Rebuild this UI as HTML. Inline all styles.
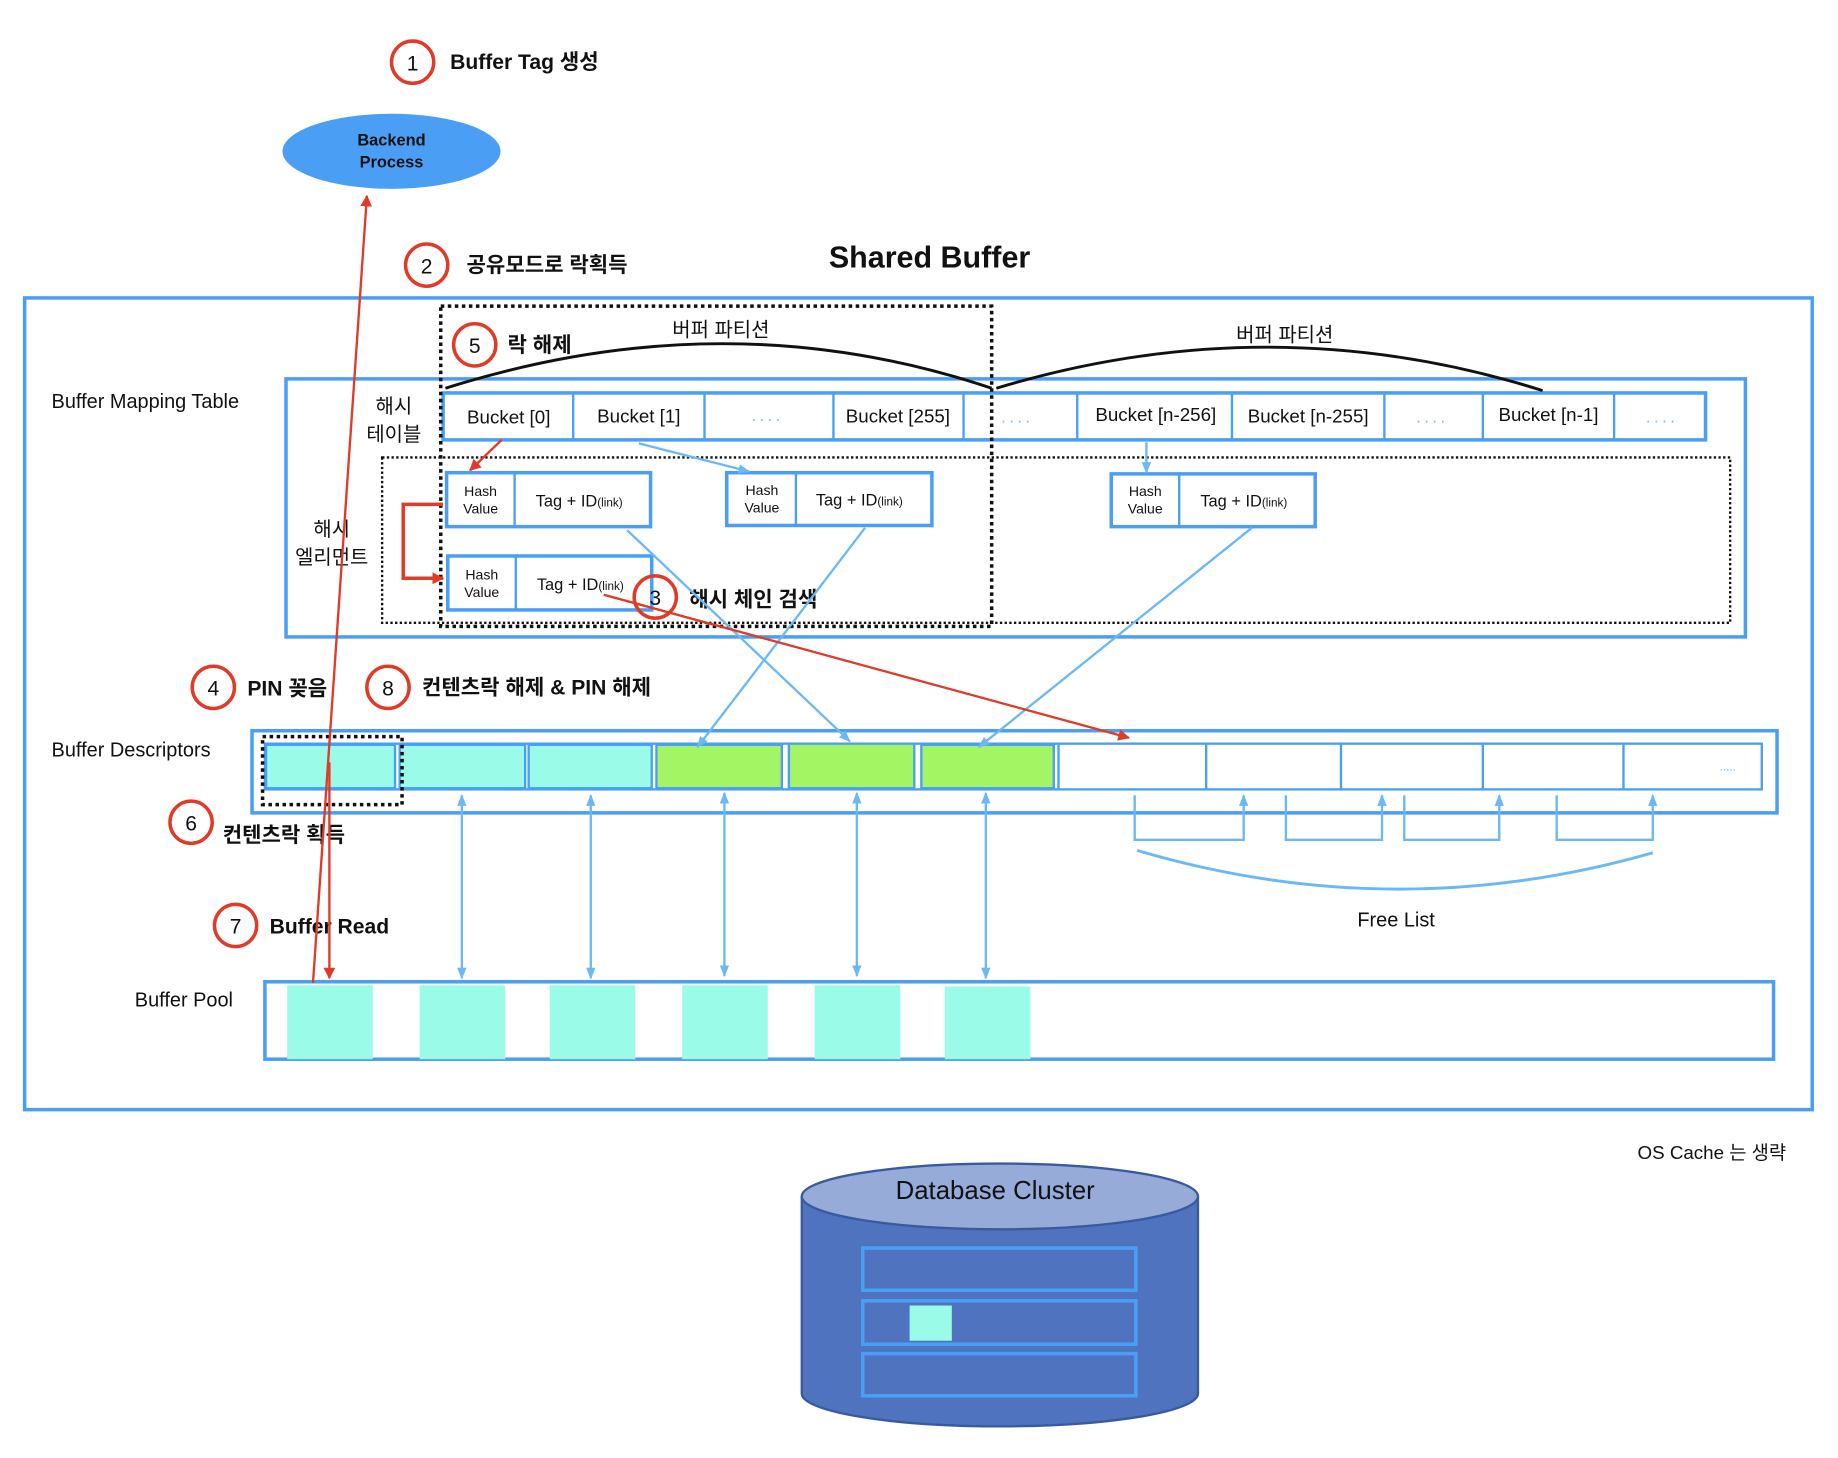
<!DOCTYPE html>
<html><head><meta charset="utf-8">
<style>
html,body{margin:0;padding:0;background:#fff;}
svg{display:block;}
text{font-family:"Liberation Sans","Noto Sans CJK KR",sans-serif;fill:#111;}
.b{font-weight:bold;}
</style></head><body>
<svg width="1838" height="1458" viewBox="0 0 1568 1243" preserveAspectRatio="none" xmlns="http://www.w3.org/2000/svg">
<defs>
<marker id="ar" markerWidth="10" markerHeight="10" refX="9" refY="5" orient="auto" markerUnits="userSpaceOnUse"><path d="M0,0 L10,5 L0,10 z" fill="#e03a28"/></marker>
<marker id="ab" markerWidth="10" markerHeight="10" refX="9" refY="5" orient="auto" markerUnits="userSpaceOnUse"><path d="M0,1 L10,5 L0,9 z" fill="#6cb8f5"/></marker>
<marker id="abs" markerWidth="10" markerHeight="10" refX="1" refY="5" orient="auto" markerUnits="userSpaceOnUse"><path d="M10,1 L0,5 L10,9 z" fill="#6cb8f5"/></marker>
</defs>
<g class="b" font-size="18">
<text class="b" x="384" y="59">Buffer Tag 생성</text>
<text class="b" x="398" y="232">공유모드로 락획득</text>
<text class="b" x="433" y="300">락 해제</text>
<text class="b" x="588" y="517">해시 체인 검색</text>
<text class="b" x="211" y="593">PIN 꽂음</text>
<text class="b" x="360" y="592">컨텐츠락 해제 &amp; PIN 해제</text>
<text class="b" x="190" y="718">컨텐츠락 획득</text>
<text class="b" x="230" y="796">Buffer Read</text>
</g>
<text class="b" x="793" y="228" font-size="26" text-anchor="middle">Shared Buffer</text>
<ellipse cx="334" cy="129" rx="93" ry="32" fill="#4a9ff5"/>
<text class="b" x="334" y="124" font-size="14" text-anchor="middle">Backend</text>
<text class="b" x="334" y="143" font-size="14" text-anchor="middle">Process</text>
<rect x="21" y="254" width="1525" height="692" fill="none" stroke="#4a9ff5" stroke-width="3"/>
<rect x="244" y="323" width="1245" height="220" fill="none" stroke="#4a9ff5" stroke-width="3"/>
<rect x="326" y="390" width="1150" height="141" fill="none" stroke="#111" stroke-width="2" stroke-dasharray="2,2"/>
<g font-size="17">
<text x="44" y="348">Buffer Mapping Table</text>
<text x="336" y="352" text-anchor="middle">해시</text><text x="336" y="376" text-anchor="middle">테이블</text>
<text x="283" y="457" text-anchor="middle">해시</text><text x="283" y="481" text-anchor="middle">엘리먼트</text>
<text x="615" y="287" text-anchor="middle">버퍼 파티션</text><text x="1096" y="291" text-anchor="middle">버퍼 파티션</text>
<text x="44" y="645">Buffer Descriptors</text>
<text x="115" y="858">Buffer Pool</text>
<text x="1191" y="790" text-anchor="middle">Free List</text>
</g>
<text x="1397" y="988" font-size="16">OS Cache 는 생략</text>
<rect x="378" y="335" width="1077" height="40" fill="#fff" stroke="#4a9ff5" stroke-width="3"/>
<g stroke="#4a9ff5" stroke-width="2">
<line x1="489" y1="335" x2="489" y2="375"/><line x1="601" y1="335" x2="601" y2="375"/><line x1="711" y1="335" x2="711" y2="375"/>
<line x1="822" y1="335" x2="822" y2="375"/><line x1="919" y1="335" x2="919" y2="375"/><line x1="1051" y1="335" x2="1051" y2="375"/>
<line x1="1181" y1="335" x2="1181" y2="375"/><line x1="1265" y1="335" x2="1265" y2="375"/><line x1="1377" y1="335" x2="1377" y2="375"/>
</g>
<g font-size="16" text-anchor="middle">
<text x="434" y="361">Bucket [0]</text><text x="545" y="360">Bucket [1]</text><text x="766" y="360">Bucket [255]</text>
<text x="986" y="359">Bucket [n-256]</text><text x="1116" y="360">Bucket [n-255]</text><text x="1321" y="359">Bucket [n-1]</text>
</g>
<g font-size="14" text-anchor="middle" letter-spacing="3">
<text x="655" y="359" style="fill:#6cb8f5">....</text><text x="868" y="360" style="fill:#6cb8f5">....</text>
<text x="1222" y="360" style="fill:#6cb8f5">....</text><text x="1418" y="360" style="fill:#6cb8f5">....</text>
</g>
<path d="M380,331 Q620,255 846,331" fill="none" stroke="#111" stroke-width="2.5"/>
<path d="M850,331 Q1085,260 1316,333" fill="none" stroke="#111" stroke-width="2.5"/>
<rect x="376" y="261" width="470" height="273" fill="none" stroke="#111" stroke-width="3" stroke-dasharray="3,3"/>
<g fill="#fff" stroke="#4a9ff5" stroke-width="3">
<rect x="381" y="403" width="174" height="46"/><rect x="620" y="403" width="175" height="45"/>
<rect x="948" y="404" width="174" height="45"/><rect x="382" y="474" width="174" height="46"/>
</g>
<g stroke="#4a9ff5" stroke-width="2">
<line x1="439" y1="403" x2="439" y2="449"/><line x1="679" y1="403" x2="679" y2="448"/>
<line x1="1006" y1="404" x2="1006" y2="449"/><line x1="440" y1="474" x2="440" y2="520"/>
</g>
<g font-size="12" text-anchor="middle">
<text x="410" y="423">Hash</text><text x="410" y="438">Value</text>
<text x="650" y="422">Hash</text><text x="650" y="437">Value</text>
<text x="977" y="423">Hash</text><text x="977" y="438">Value</text>
<text x="411" y="494">Hash</text><text x="411" y="509">Value</text>
</g>
<g font-size="14">
<text x="457" y="432">Tag  +  ID<tspan font-size="10">(link)</tspan></text>
<text x="696" y="431">Tag  +  ID<tspan font-size="10">(link)</tspan></text>
<text x="1024" y="432">Tag  +  ID<tspan font-size="10">(link)</tspan></text>
<text x="458" y="503">Tag  +  ID<tspan font-size="10">(link)</tspan></text>
</g>
<rect x="215" y="623" width="1301" height="70" fill="none" stroke="#4a9ff5" stroke-width="3"/>
<rect x="226" y="634" width="1277" height="39" fill="#fff" stroke="#4a9ff5" stroke-width="2"/>
<g stroke="#4a9ff5" stroke-width="2">
<rect x="227" y="635" width="110" height="37" fill="#99fbe8"/><rect x="341" y="635" width="107" height="37" fill="#99fbe8"/>
<rect x="451" y="635" width="105" height="37" fill="#99fbe8"/><rect x="560" y="635" width="107" height="37" fill="#a4f564"/>
<rect x="673" y="634" width="107" height="38" fill="#a4f564"/><rect x="786" y="635" width="113" height="37" fill="#a4f564"/>
<line x1="903" y1="634" x2="903" y2="673"/><line x1="1029" y1="634" x2="1029" y2="673"/><line x1="1144" y1="634" x2="1144" y2="673"/>
<line x1="1265" y1="634" x2="1265" y2="673"/><line x1="1385" y1="634" x2="1385" y2="673"/>
</g>
<text x="1474" y="657" font-size="10" text-anchor="middle" style="fill:#6cb8f5">.....</text>
<rect x="224" y="628" width="119" height="58" fill="none" stroke="#111" stroke-width="3" stroke-dasharray="3,3"/>
<g stroke="#6cb8f5" stroke-width="2" marker-end="url(#ab)" marker-start="url(#abs)">
<line x1="394" y1="678" x2="394" y2="834"/><line x1="504" y1="678" x2="504" y2="834"/>
<line x1="618" y1="676" x2="618" y2="832"/><line x1="731" y1="676" x2="731" y2="832"/><line x1="841" y1="676" x2="841" y2="834"/>
</g>
<g fill="none" stroke="#6cb8f5" stroke-width="2">
<path d="M968,678 V716 H1061 V678" marker-end="url(#ab)"/>
<path d="M1097,678 V716 H1179 V678" marker-end="url(#ab)"/>
<path d="M1198,678 V716 H1279 V678" marker-end="url(#ab)"/>
<path d="M1328,678 V716 H1410 V678" marker-end="url(#ab)"/>
<path d="M970,725 Q1190,790 1410,727" stroke-width="2.5"/>
</g>
<rect x="226" y="837" width="1287" height="66" fill="#fff" stroke="#4a9ff5" stroke-width="3"/>
<g fill="#99fbe8">
<rect x="245" y="840" width="73" height="63"/><rect x="358" y="840" width="73" height="63"/><rect x="469" y="840" width="73" height="63"/>
<rect x="582" y="840" width="73" height="63"/><rect x="695" y="840" width="73" height="63"/><rect x="806" y="841" width="73" height="62"/>
</g>
<g stroke="#6cb8f5" stroke-width="2" marker-end="url(#ab)">
<line x1="545" y1="378" x2="639" y2="402"/>
<line x1="978" y1="377" x2="978" y2="403"/>
<line x1="535" y1="452" x2="725" y2="632"/>
<line x1="738" y1="450" x2="595" y2="637"/>
<line x1="1068" y1="450" x2="835" y2="637"/>
</g>
<g stroke="#e03a28" stroke-width="2" fill="none" marker-end="url(#ar)">
<line x1="428" y1="375" x2="401" y2="401"/>
<path d="M378,430 H344 V493 H378" stroke-width="3"/>
<line x1="515" y1="507" x2="963" y2="629"/>
<line x1="267" y1="838" x2="313" y2="167"/>
<line x1="281" y1="650" x2="281" y2="834"/>
</g>
<g fill="none" stroke="#e03a28" stroke-width="3">
<circle cx="352" cy="53" r="18"/><circle cx="364" cy="226" r="18"/><circle cx="405" cy="294" r="18"/>
<circle cx="559" cy="509" r="18"/><circle cx="182" cy="586" r="18"/><circle cx="331" cy="586" r="18"/>
<circle cx="163" cy="701" r="18"/><circle cx="201" cy="789" r="18"/>
</g>
<g font-size="18" text-anchor="middle">
<text x="352" y="60">1</text><text x="364" y="233">2</text><text x="405" y="301">5</text><text x="559" y="516">3</text>
<text x="182" y="593">4</text><text x="331" y="593">8</text><text x="163" y="708">6</text><text x="201" y="796">7</text>
</g>
<path d="M684,1020 V1188 A169,28 0 0 0 1022,1188 V1020" fill="#5073bf" stroke="#3a5aa0" stroke-width="2"/>
<ellipse cx="853" cy="1020" rx="169" ry="28" fill="#97abd9" stroke="#3a5aa0" stroke-width="2"/>
<text x="849" y="1022" font-size="22" text-anchor="middle">Database Cluster</text>
<g fill="none" stroke="#4a9ff5" stroke-width="3">
<rect x="736" y="1064" width="233" height="36"/><rect x="736" y="1109" width="233" height="37"/><rect x="736" y="1154" width="233" height="36"/>
</g>
<rect x="776" y="1113" width="36" height="30" fill="#99fbe8"/>
</svg>
</body></html>
